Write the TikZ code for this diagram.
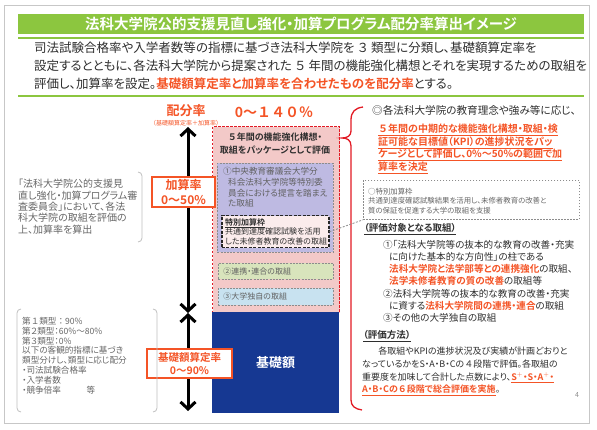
\documentclass[tikz,border=0pt]{standalone}
\usepackage{fontspec}
\setmainfont{Noto Sans CJK JP}[BoldFont={* Bold},RawFeature=+palt]
\newfontfamily\jpfix{Noto Sans CJK JP}[BoldFont={* Bold}]
\usepackage{tikz}
\definecolor{colorTitle}{RGB}{140,198,63}
\definecolor{colorHi}{RGB}{244,84,38}
\definecolor{colorBrace}{RGB}{226,26,36}
\definecolor{colorPkg}{RGB}{243,201,200}
\definecolor{colorOne}{RGB}{190,186,226}
\definecolor{colorTwo}{RGB}{216,228,188}
\definecolor{colorThree}{RGB}{200,226,240}
\definecolor{colorBase}{RGB}{22,56,146}
\colorlet{colorText}{black!82}
\colorlet{colorNote}{black!60}
\colorlet{colorDash}{black!45}
\usetikzlibrary{arrows.meta}
\usetikzlibrary{positioning}
\tikzset{
   every path/.style={>={Straight Barb[length=7pt,width=15pt]}},
   fs/.style 2 args={font=\fontsize{#1}{#2}\selectfont},
   fsb/.style 2 args={font=\fontsize{#1}{#2}\selectfont\bfseries},
   txt/.style={inner sep=0pt,align=left,anchor=north west,text=colorText},
   note/.style={txt,text=colorNote},
   hi/.style={text=colorHi},
   axis/.style={<->,line width=3pt},
   rate/.style={draw=colorHi,fill=white,line width=1.4pt,inner sep=0pt,align=center,text=colorHi},
   pkg/.style={draw=colorBrace,fill=colorPkg,line width=1.2pt,dash pattern=on 2.5pt off 1.5pt,anchor=north west,inner sep=0pt},
   sub/.style={draw=colorDash,line width=0.7pt,dash pattern=on 2pt off 1.2pt,anchor=north west,inner sep=0pt},
   special/.style={draw=black!85,fill=colorPkg!35,line width=1.5pt,dash pattern=on 3pt off 1.5pt,anchor=north west,inner sep=0pt},
   callout/.style={draw=colorDash,line width=0.8pt,dash pattern=on 1.5pt off 1.5pt,anchor=north west,inner sep=0pt},
   link/.style={draw=colorDash,line width=0.8pt,dash pattern=on 2pt off 1.5pt},
   brk/.style={draw=black!25,line width=0.8pt,rounded corners=4pt},
   brace/.style={draw=colorBrace,line width=1.3pt},
   base/.style={fill=colorBase,anchor=north west,inner sep=0pt,text=white},
   rule/.style={draw=colorTitle,line width=1.5pt},
}
\newcommand{\kw}[1]{\textcolor{colorHi}{\bfseries #1}}
\newcommand{\kwu}[1]{\textcolor{colorHi}{\bfseries\underline{#1}}}
\newcommand{\zw}[1]{{\jpfix #1}}

\begin{document}
\begin{tikzpicture}[x=1pt,y=-1pt]
  \useasboundingbox (0,0) rectangle (597,430);
  \draw[black!22,line width=1pt] (4,6) rectangle (589,423);

  \node[fill=colorTitle,minimum width=566pt,minimum height=20pt,inner sep=0pt,text=white,fsb={14.5}{16}] (title) at (301,24) {法科大学院公的支援見直し強化・加算プログラム配分率算出イメージ};
  \draw[rule] (18,38) -- (584,38);
  \draw[rule] (18,96) -- (584,96);

  \node[txt,fs={12.5}{18}] (intro) at (34,42) {司法試験合格率や入学者数等の指標に基づき法科大学院を\,\zw{３}\,類型に分類し、基礎額算定率を\\設定するとともに、各法科大学院から提案された\,\zw{５}\,年間の機能強化構想とそれを実現するための取組を\\評価し、加算率を設定。\kw{基礎額算定率と加算率を合わせたものを配分率}とする。};

  \node[fsb={13}{15},hi] (haibun) at (186,111) {配分率};
  \node[fs={6}{7},hi] (haibunsub) at (186,123) {（基礎額算定率＋加算率）};
  \node[fsb={14}{16},hi] (total) at (274,112) {\jpfix 0～１４０％};

  \node[pkg,minimum width=127pt,minimum height=186pt] (pkgbox) at (212,126) {};
  \node[fsb={9}{13},align=center,text=colorText] (pkgtitle) at (275,144) {\zw{５}年間の機能強化構想・\\取組をパッケージとして評価};
  \node[sub,fill=colorOne,minimum width=116pt,minimum height=89pt] (one) at (217,163) {};
  \node[txt,fs={8.6}{10.8},text=black!62] (onetext) at (223,167) {①中央教育審議会大学分\\\hspace*{5pt}科会法科大学院等特別委\\\hspace*{5pt}員会における提言を踏まえ\\\hspace*{5pt}た取組};
  \node[special,minimum width=107pt,minimum height=32pt] (spec) at (221,215) {};
  \node[txt,fs={8}{9.6}] (spectext) at (225,218) {\textbf{\underline{特別加算枠}}\\共通到達度確認試験を活用\\した未修者教育の改善の取組};
  \node[sub,fill=colorTwo,minimum width=115pt,minimum height=16pt,text width=105pt,align=left,fs={8}{9},text=black!62] (two) at (218,263) {②連携・連合の取組};
  \node[sub,fill=colorThree,minimum width=115pt,minimum height=17pt,text width=105pt,align=left,fs={8}{9},text=black!62] (three) at (218,288) {③大学独自の取組};
  \node[base,minimum width=127pt,minimum height=101pt,fsb={13}{15}] (kiso) at (212,312) {基礎額};

  \coordinate (atop) at (188,127);
  \coordinate (amid) at (188,313);
  \coordinate (abot) at (188,411);
  \draw[axis] (amid) -- (atop);
  \draw[axis] (amid) -- (abot);
  \node[rate,minimum width=63pt,minimum height=30pt,fsb={12}{15}] (kasan) at (183.5,192) {加算率\\0～50\%};
  \node[rate,minimum width=85pt,minimum height=29pt,fsb={10.5}{13}] (kisorate) at (189.5,363.5) {基礎額算定率\\0～90\%};

  \node[note,fs={10}{11.4}] (noteA) at (18,179) {「法科大学院公的支援見\\直し強化・加算プログラム審\\査委員会」において、各法\\科大学院の取組を評価の\\上、加算率を算出};
  \draw[brk] (138,172) -- (142,172) -- (142,242) -- (138,242);
  \node[note,fs={8.6}{9.8}] (noteB) at (22,317) {\jpfix 第１類型：90\%\\第２類型：60\%～80\%\\第３類型：0\%\\以下の客観的指標に基づき\\類型分けし、類型に応じ配分\\・司法試験合格率\\・入学者数\\・競争倍率\hspace{3em}等};
  \draw[brk] (21,309) -- (17,309) -- (17,412) -- (21,412);
  \draw[brk] (153,309) -- (157,309) -- (157,412) -- (153,412);

  \draw[brace] (363,107) .. controls (355,108) and (351,112) .. (351,120) -- (351,131)
     .. controls (351,136) and (347,138) .. (342,138) .. controls (347,138) and (351,140) .. (351,146)
     -- (351,400) .. controls (351,406) and (355,409) .. (362,410);

  \node[txt,fs={10.6}{12}] (aim) at (372,105) {◎各法科大学院の教育理念や強み等に応じ、};
  \node[txt,fsb={10}{12.6},hi] (aimhi) at (378,124) {\underline{\zw{５}年間の中期的な機能強化構想・取組・検}\\\underline{証可能な目標値（KPI）の進捗状況をパッ}\\\underline{ケージとして評価し、0\%～50\%の範囲で加}\\\underline{算率を決定}};

  \node[callout,minimum width=216pt,minimum height=39pt] (spcall) at (363,180) {};
  \node[note,fs={7.4}{9.5}] (spcalltext) at (368,188) {○特別加算枠\\共通到達度確認試験結果を活用し、未修者教育の改善と\\質の保証を促進する大学の取組を支援};
  \draw[link] (spec.east) -- (spcall.south west);

  \node[txt,fsb={9.5}{11}] (evalhead) at (364,223) {\underline{（評価対象となる取組）}};
  \node[txt,fs={9.6}{12}] (evalitems) at (383,240) {①「法科大学院等の抜本的な教育の改善・充実\\\hspace*{6pt}に向けた基本的な方向性」の柱である\\\hspace*{6pt}\kw{法科大学院と法学部等との連携強化}の取組、\\\hspace*{6pt}\kw{法学未修者教育の質の改善}の取組等\\[1pt]②法科大学院等の抜本的な教育の改善・充実\\\hspace*{6pt}に資する\kw{法科大学院間の連携・連合}の取組\\③その他の大学独自の取組};

  \node[txt,fsb={9.5}{11}] (methodhead) at (363,330) {\underline{（評価方法）}};
  \node[txt,fs={9}{12.7}] (methodtext) at (362,347) {\hspace*{1.8em}各取組やKPIの進捗状況及び実績が計画どおりと\\なっているかをS・A・B・Cの\zw{４}段階で評価。各取組の\\重要度を加味して合計した点数により、\kwu{S$^{+}$・S・A$^{+}$・}\\\kwu{A・B・Cの\zw{６}段階で総合評価を実施}。};
  \node[fs={7}{8},text=black!45] (pageno) at (577,395) {4};
\end{tikzpicture}
\end{document}
